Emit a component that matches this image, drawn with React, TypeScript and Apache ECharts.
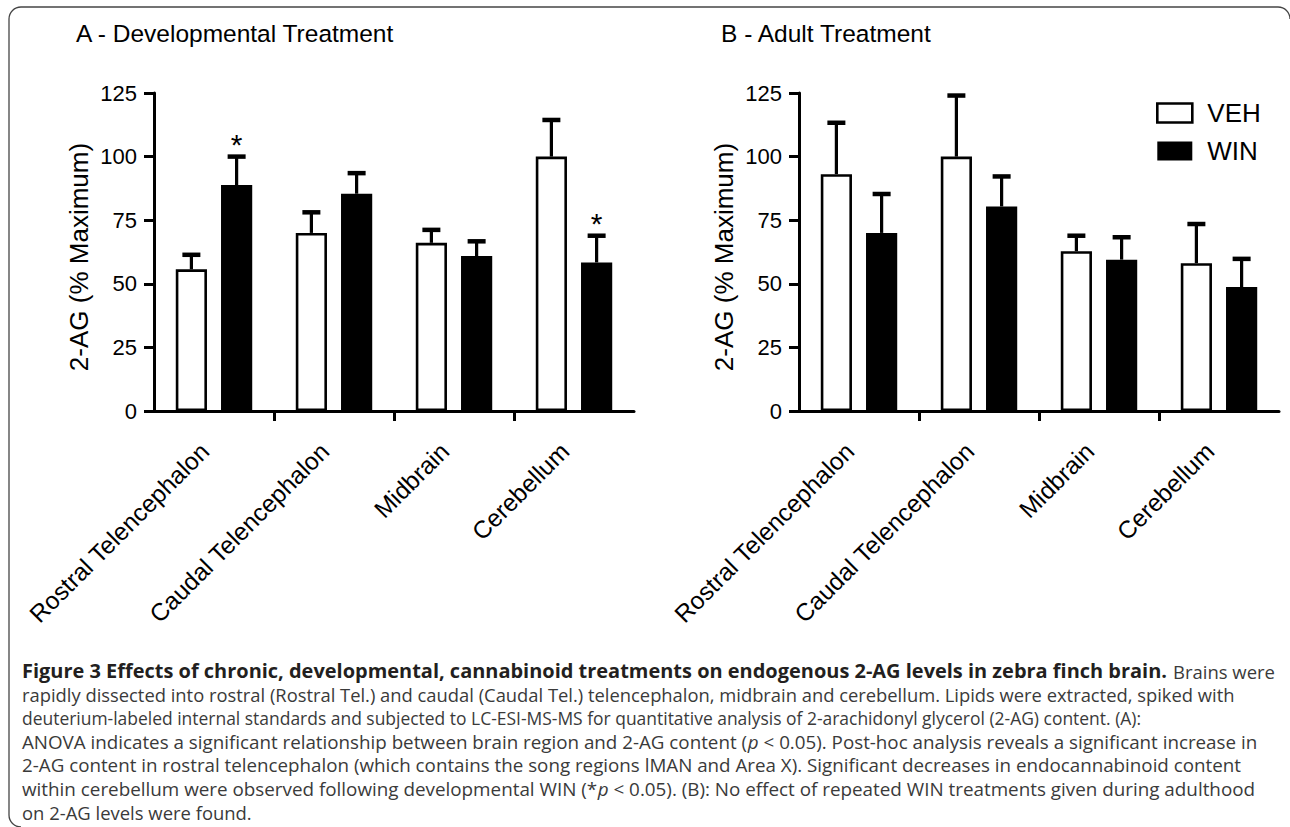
import React, { useEffect, useRef } from 'react';
import * as echarts from 'echarts';

// ---------- data ----------
const categories = ['Rostral Telencephalon', 'Caudal Telencephalon', 'Midbrain', 'Cerebellum'];
const seriesNames = ['VEH', 'WIN'];

// Panel A - Developmental treatment
const vehA = [55.7, 70.0, 66.1, 100.0];
const vehErrA = [5.7, 8.1, 5.1, 14.4];
const winA = [88.8, 85.4, 60.9, 58.4];
const winErrA = [11.2, 8.1, 5.8, 10.5];
const sigWinA = [1, 0, 0, 1];

// Panel B - Adult treatment
const vehB = [93.1, 100.0, 62.8, 58.1];
const vehErrB = [20.2, 24.0, 6.1, 15.4];
const winB = [70.0, 80.4, 59.5, 48.7];
const winErrB = [15.3, 11.8, 8.8, 11.1];
const sigWinB = [0, 0, 0, 0];

const yTicks = { min: 0, max: 125, interval: 25 };
const titleA = 'A - Developmental Treatment';
const titleB = 'B - Adult Treatment';
const yAxisName = '2-AG (% Maximum)';

const captionBold = 'Figure 3 Effects of chronic, developmental, cannabinoid treatments on endogenous 2-AG levels in zebra finch brain.';
const captionFirstRest = 'Brains were';
const captionLines = [
  'rapidly dissected into rostral (Rostral Tel.) and caudal (Caudal Tel.) telencephalon, midbrain and cerebellum. Lipids were extracted, spiked with',
  'deuterium-labeled internal standards and subjected to LC-ESI-MS-MS for quantitative analysis of 2-arachidonyl glycerol (2-AG) content. (A):',
  'ANOVA indicates a significant relationship between brain region and 2-AG content ({i|p} < 0.05). Post-hoc analysis reveals a significant increase in',
  '2-AG content in rostral telencephalon (which contains the song regions lMAN and Area X). Significant decreases in endocannabinoid content',
  'within cerebellum were observed following developmental WIN (*{i|p} < 0.05). (B): No effect of repeated WIN treatments given during adulthood',
  'on 2-AG levels were found.',
];

// ---------- style / layout ----------
const FONT = "'Liberation Sans', Arial, Helvetica, sans-serif";
const CAP_FONT = "'Open Sans', 'Noto Sans', sans-serif";
const CAP_SIZE = 19;
const OFFSET_FRAC = 0.1885; // bar centre offset as share of band width
const CAP_LEFT = 22;
const CAP_TOP = 671;
const CAP_GAP = 23.5;
const BOLD_RIGHT = 1167;
const FIRST_REST_LEFT = 1173;
const FIRST_RIGHT = 1275;
const LINE_RIGHTS = [1236, 1142, 1258, 1242, 1256, 0];

function errData(means: number[], errs: number[], side: number, sig?: number[]) {
  return means.map((m, i) => [i, m, errs[i], side, sig ? sig[i] : 0]);
}

const renderErr = (params: any, api: any) => {
  const ci = api.value(0);
  const mean = api.value(1);
  const err = api.value(2);
  const side = api.value(3);
  const sig = api.value(4);
  const band = api.size([1, 0])[0];
  const base = api.coord([ci, mean]);
  const top = api.coord([ci, mean + err]);
  const x = base[0] + side * band * OFFSET_FRAC;
  const children: any[] = [
    { type: 'line', shape: { x1: x, y1: base[1], x2: x, y2: top[1] }, style: { stroke: '#000', lineWidth: 3.2 } },
    { type: 'line', shape: { x1: x - 9, y1: top[1], x2: x + 9, y2: top[1] }, style: { stroke: '#000', lineWidth: 4.5 } },
  ];
  if (sig) {
    children.push({
      type: 'text',
      x,
      y: top[1] + 3,
      style: { text: '*', fontSize: 30, fontFamily: FONT, fill: '#000', align: 'center', verticalAlign: 'bottom' },
    });
  }
  return { type: 'group', children };
};

function catAxis(gridIndex: number) {
  return {
    type: 'category',
    gridIndex,
    data: categories,
    position: 'bottom',
    axisLine: { show: true, lineStyle: { color: '#000', width: 3 } },
    axisTick: { show: false },
    axisLabel: {
      rotate: 45, interval: 0, color: '#000', fontSize: 24.5, fontFamily: FONT,
      margin: 27, padding: [0, 13, 0, 0],
    },
    splitLine: { show: false },
  };
}

function tickAxis(gridIndex: number) {
  return {
    type: 'value',
    gridIndex,
    position: 'bottom',
    min: 0,
    max: categories.length,
    axisLine: { show: false },
    axisTick: { show: true, customValues: [1, 2, 3], length: 10, lineStyle: { color: '#000', width: 3 } },
    axisLabel: { show: false },
    splitLine: { show: false },
  };
}

function valAxis(gridIndex: number) {
  return {
    type: 'value',
    gridIndex,
    min: yTicks.min,
    max: yTicks.max,
    interval: yTicks.interval,
    axisLine: { show: true, lineStyle: { color: '#000', width: 3 } },
    axisTick: { show: true, length: 10, lineStyle: { color: '#000', width: 3 } },
    axisLabel: { color: '#000', fontSize: 22, fontFamily: FONT, margin: 17 },
    splitLine: { show: false },
    name: yAxisName,
    nameLocation: 'middle',
    nameGap: 62,
    nameTextStyle: { color: '#000', fontSize: 26, fontFamily: FONT, padding: [0, 10, 0, 0] },
  };
}

function panelSeries(ax: number, veh: number[], vehErr: number[], win: number[], winErr: number[], sig: number[]) {
  return [
    {
      name: seriesNames[0], type: 'bar', xAxisIndex: ax, yAxisIndex: ax, data: veh,
      barWidth: '26%', barGap: '45%',
      itemStyle: { color: '#fff', borderColor: '#000', borderWidth: 2.6 }, z: 2,
    },
    {
      name: seriesNames[1], type: 'bar', xAxisIndex: ax, yAxisIndex: ax, data: win,
      barWidth: '26%', barGap: '45%',
      itemStyle: { color: '#000', borderColor: '#000', borderWidth: 2.6 }, z: 2,
    },
    {
      type: 'custom', xAxisIndex: ax, yAxisIndex: ax, renderItem: renderErr,
      data: [...errData(veh, vehErr, -1), ...errData(win, winErr, 1, sig)],
      encode: { x: 0, y: 1 }, z: 3, clip: false, silent: true,
    },
  ];
}

export default function App() {
  const ref = useRef<HTMLDivElement>(null);
  useEffect(() => {
    if (!ref.current) return;
    const chart = echarts.init(ref.current, undefined, { renderer: 'svg' });

    // measure caption lines so that the (narrower) original font widths are matched
    let ctx: CanvasRenderingContext2D | null = null;
    try { ctx = document.createElement('canvas').getContext('2d'); } catch (e) { ctx = null; }
    const measure = (t: string, bold = false) => {
      if (!ctx) return 0;
      ctx.font = `${bold ? 'bold ' : ''}${CAP_SIZE}px 'Open Sans'`;
      return ctx.measureText(t.replace(/\{i\|([^}]*)\}/g, '$1')).width;
    };
    const fit = (t: string, width: number, bold = false, fallback = 0.8) => {
      const w = measure(t, bold);
      return w > 0 ? width / w : fallback;
    };

    const capStyle = (t: string) => ({
      text: t,
      fontSize: CAP_SIZE,
      fontFamily: CAP_FONT,
      fill: '#3a3a3a',
      verticalAlign: 'middle',
      align: 'left',
      rich: {
        i: { fontStyle: 'italic', fill: '#3a3a3a', fontSize: CAP_SIZE, fontFamily: CAP_FONT },
      },
    });

    const scales = LINE_RIGHTS.map((r, i) => (r ? fit(captionLines[i], r - CAP_LEFT) : 0));
    const valid = scales.filter((s) => s > 0);
    const avgScale = valid.length ? valid.reduce((a, b) => a + b, 0) / valid.length : 0.8;

    const caption: any[] = [
      {
        type: 'text', x: CAP_LEFT, y: CAP_TOP, scaleX: fit(captionBold, BOLD_RIGHT - CAP_LEFT, true),
        style: { text: captionBold, fontSize: CAP_SIZE, fontFamily: CAP_FONT, fontWeight: 'bold', fill: '#231f20', verticalAlign: 'middle', align: 'left' },
      },
      {
        type: 'text', x: FIRST_REST_LEFT, y: CAP_TOP, scaleX: fit(captionFirstRest, FIRST_RIGHT - FIRST_REST_LEFT),
        style: capStyle(captionFirstRest),
      },
      ...captionLines.map((t, i) => ({
        type: 'text',
        x: CAP_LEFT,
        y: CAP_TOP + (i + 1) * CAP_GAP,
        scaleX: scales[i] > 0 ? scales[i] : avgScale,
        style: capStyle(t),
      })),
    ];

    const frameStyle = { stroke: '#444', lineWidth: 1.3, fill: 'none' };
    const frame = [
      { type: 'line', shape: { x1: 21, y1: 7, x2: 1278, y2: 7 }, style: frameStyle },
      { type: 'line', shape: { x1: 9, y1: 19, x2: 9, y2: 815 }, style: frameStyle },
      { type: 'arc', shape: { cx: 21, cy: 19, r: 12, startAngle: Math.PI, endAngle: Math.PI * 1.5, clockwise: true }, style: frameStyle },
      { type: 'arc', shape: { cx: 1278, cy: 19, r: 12, startAngle: Math.PI * 1.5, endAngle: Math.PI * 2, clockwise: true }, style: frameStyle },
      { type: 'arc', shape: { cx: 21, cy: 815, r: 12, startAngle: Math.PI * 0.5, endAngle: Math.PI, clockwise: true }, style: frameStyle },
    ];

    const titles = [
      { type: 'text', x: 76, y: 33.5, style: { text: titleA, fontSize: 24.5, fontFamily: FONT, fill: '#000', verticalAlign: 'middle' } },
      { type: 'text', x: 721, y: 33.5, style: { text: titleB, fontSize: 24.5, fontFamily: FONT, fill: '#000', verticalAlign: 'middle' } },
    ];

    chart.setOption({
      animation: false,
      backgroundColor: '#fff',
      grid: [
        { left: 154, top: 93, width: 480, height: 318 },
        { left: 799, top: 93, width: 480, height: 318 },
      ],
      xAxis: [catAxis(0), catAxis(1), tickAxis(0), tickAxis(1)],
      yAxis: [valAxis(0), valAxis(1)],
      legend: {
        show: true,
        orient: 'vertical',
        left: 1156,
        top: 100,
        padding: 0,
        itemWidth: 35,
        itemHeight: 19,
        itemGap: 12,
        icon: 'rect',
        selectedMode: false,
        textStyle: { fontSize: 26, color: '#000', fontFamily: FONT, padding: [0, 0, 0, 10] },
        data: [
          { name: seriesNames[0], itemStyle: { color: '#fff', borderColor: '#000', borderWidth: 2.6 } },
          { name: seriesNames[1], itemStyle: { color: '#000', borderColor: '#000', borderWidth: 0 } },
        ],
      },
      series: [
        ...panelSeries(0, vehA, vehErrA, winA, winErrA, sigWinA),
        ...panelSeries(1, vehB, vehErrB, winB, winErrB, sigWinB),
      ],
      graphic: [...frame, ...titles, ...caption],
    });
    return () => chart.dispose();
  }, []);
  return (
    <div
      ref={ref}
      style={{ position: 'fixed', left: 0, top: 0, width: 1290, height: 827, background: '#fff' }}
    />
  );
}
